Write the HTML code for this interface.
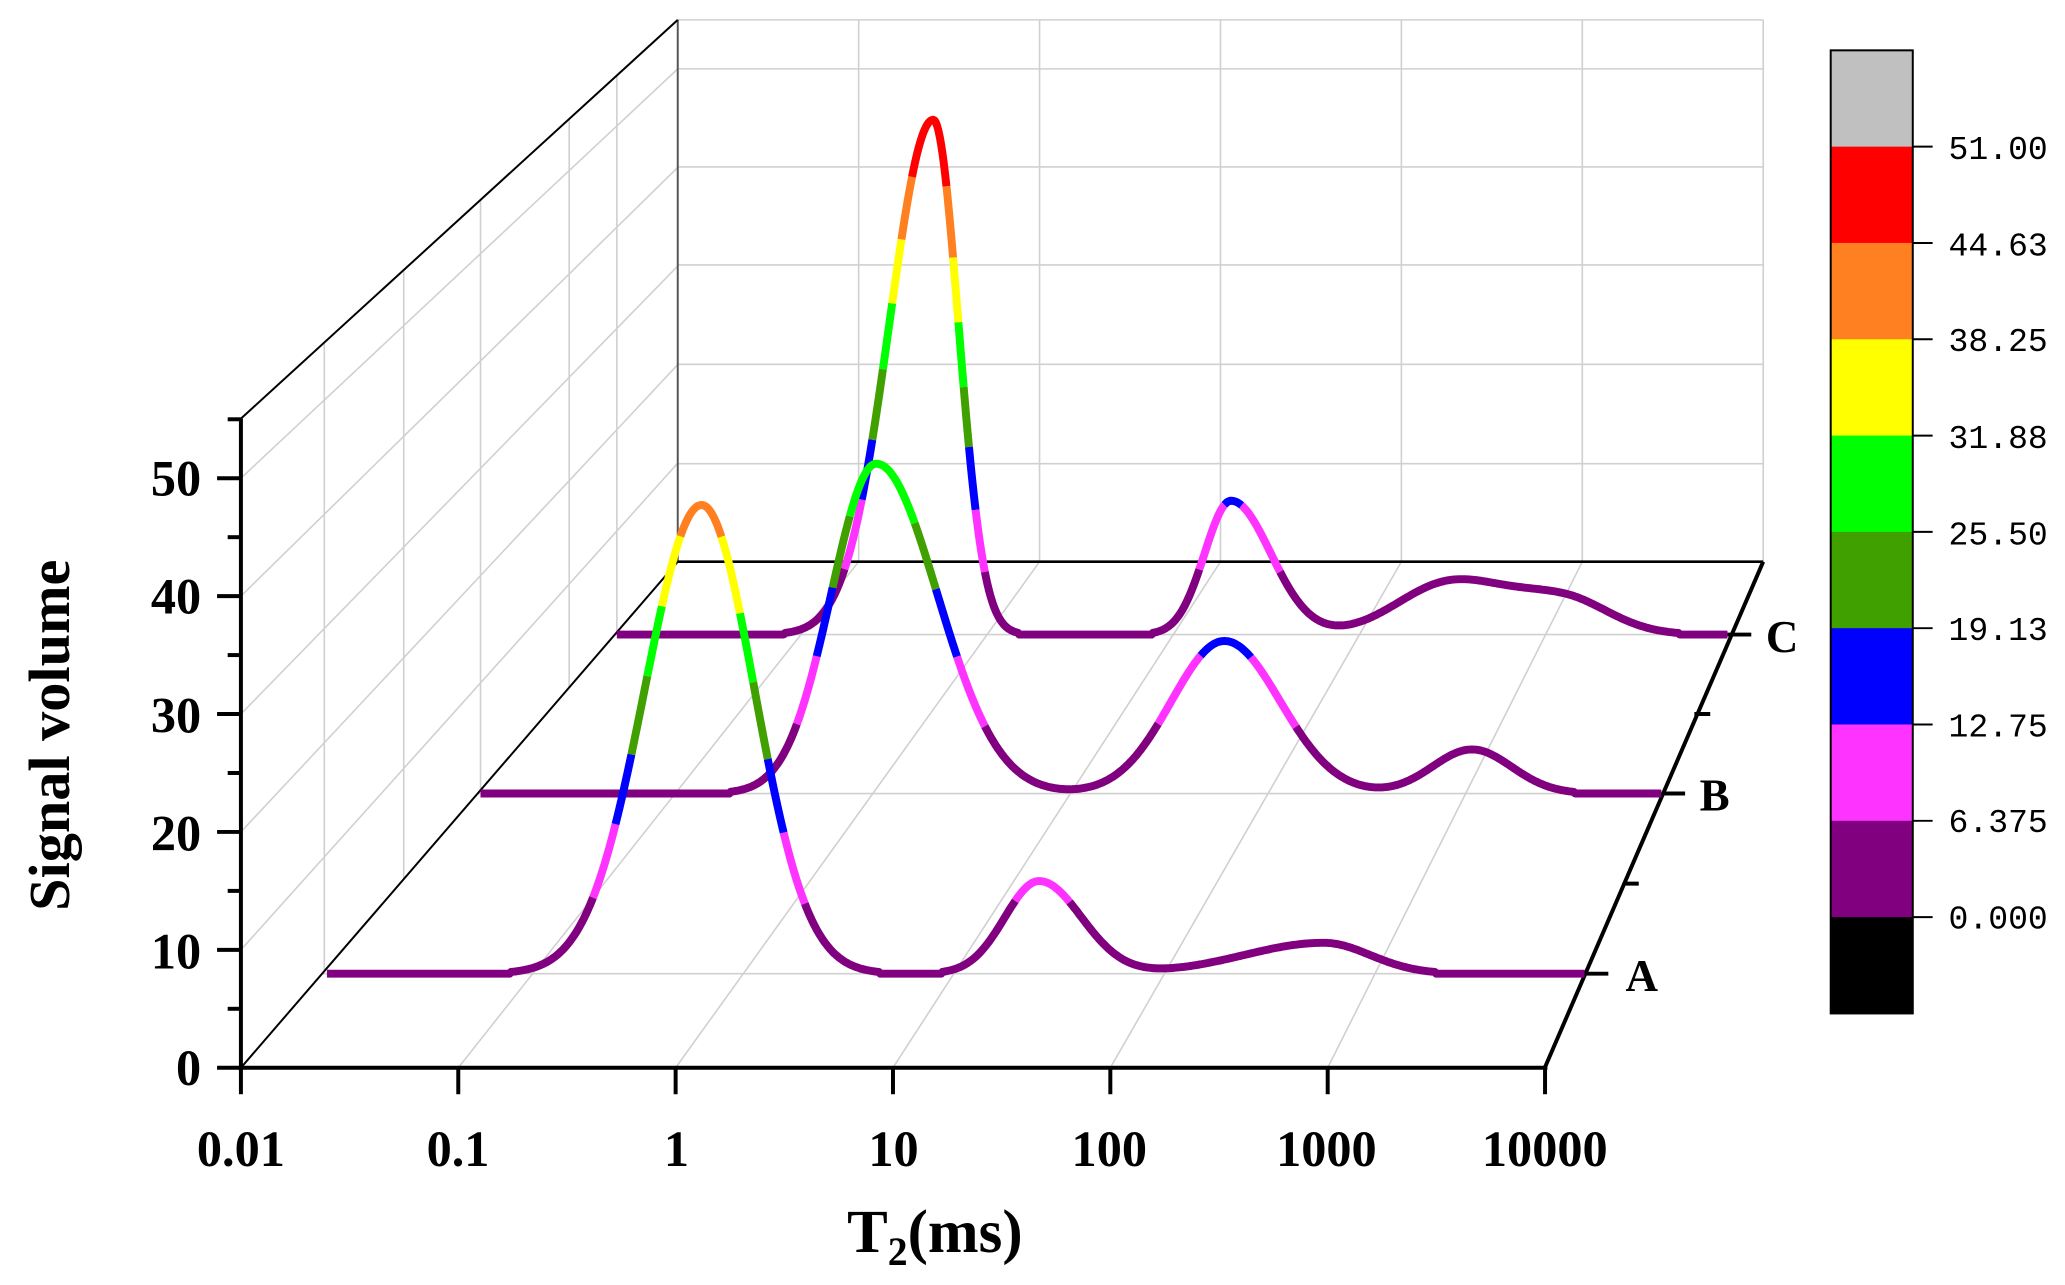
<!DOCTYPE html>
<html><head><meta charset="utf-8"><style>
html,body{margin:0;padding:0;background:#fff;}
svg{display:block;}
</style></head><body>
<svg id="s" width="2065" height="1285" viewBox="0 0 1560 970" preserveAspectRatio="none" xmlns="http://www.w3.org/2000/svg">
<g id="grid" stroke="#d0d0d0" stroke-width="1.2" fill="none"></g>
<g id="axes" stroke="#000" fill="none"></g>
<g id="curves" fill="none" stroke-width="6" stroke-linecap="butt" stroke-linejoin="round"></g>
<g id="cbar"></g>
<g font-family="'Liberation Serif',serif" font-weight="bold" fill="#000">
<g font-size="38" text-anchor="end">
<text x="152" y="819">0</text><text x="152" y="731">10</text><text x="152" y="642">20</text><text x="152" y="553">30</text><text x="152" y="463">40</text><text x="152" y="374">50</text>
</g>
<g font-size="38" text-anchor="middle">
<text x="182" y="880">0.01</text><text x="346" y="880">0.1</text><text x="511" y="880">1</text><text x="675" y="880">10</text><text x="838" y="880">100</text><text x="1002" y="880">1000</text><text x="1167" y="880">10000</text>
</g>
<text x="640" y="945" font-size="46">T<tspan font-size="30" dy="10">2</tspan><tspan dy="-10">(ms)</tspan></text>
<text transform="translate(52,555) rotate(-90)" font-size="44" text-anchor="middle">Signal volume</text>
<g font-size="34"><text x="1228" y="748">A</text><text x="1284" y="612">B</text><text x="1334" y="492">C</text></g>
</g>
<g font-family="'Liberation Mono',monospace" font-size="25" fill="#000">
<text x="1472" y="120">51.00</text><text x="1472" y="193">44.63</text><text x="1472" y="265">38.25</text><text x="1472" y="338">31.88</text><text x="1472" y="411">25.50</text><text x="1472" y="483">19.13</text><text x="1472" y="556">12.75</text><text x="1472" y="628">6.375</text><text x="1472" y="701">0.000</text>
</g>
</svg>
<script>
const NS="http://www.w3.org/2000/svg";
function L(g,x1,y1,x2,y2,attrs){const e=document.createElementNS(NS,"line");e.setAttribute("x1",x1);e.setAttribute("y1",y1);e.setAttribute("x2",x2);e.setAttribute("y2",y2);if(attrs)for(const k in attrs)e.setAttribute(k,attrs[k]);document.getElementById(g).appendChild(e);}
for(const y of [15,52,126,200,275,350])L("grid",512,y,1332,y);
for(let i=1;i<=6;i++){const x=512+i*136.67;L("grid",x,15,x,424);}
for(let k=1;k<=5;k++){L("grid",182,806-k*10*8.9,512,424-k*10*7.44);}
for(const x of [245,305,363,430,466]){const t=(x-182)/330;const yb=806-382*t, yt=316-301*t;L("grid",x,yt,x,yb);}
for(let i=1;i<=6;i++){L("grid",182+i*164.2,806,512+i*136.67,424);}
L("grid",243,735,1197,735);L("grid",361,599,1255,599);L("grid",464,479,1305,479);
L("axes",512,15,512,424,{"stroke-width":1.5,stroke:"#555"});
L("axes",512,424,1332,424,{"stroke-width":2});
L("axes",182,806,512,424,{"stroke-width":1.5});
L("axes",182,316,512,15,{"stroke-width":1.5});
L("axes",182,316,182,808,{"stroke-width":3});
L("axes",180,806,1169,806,{"stroke-width":3});
L("axes",1167,806,1332,424,{"stroke-width":3});
for(let k=0;k<=5;k++){const y=806-k*10*8.9;L("axes",164,y,182,y,{"stroke-width":3});const y2=y-44.5;if(y2>316)L("axes",172,y2,182,y2,{"stroke-width":3});}
for(let i=0;i<=6;i++){const x=182+i*164.2;L("axes",x,806,x,826,{"stroke-width":3});}
L("axes",1197,735,1215,735,{"stroke-width":3});L("axes",1255,599,1273,599,{"stroke-width":3});L("axes",1305,479,1323,479,{"stroke-width":3});
L("axes",1226,667,1238,667,{"stroke-width":3});L("axes",1280,539,1292,539,{"stroke-width":3});
const cols=["#800080","#ff33ff","#0000ff","#40a000","#00ff00","#ffff00","#ff8020","#ff0000"];
function col(v){let i=Math.floor(v/6.375);if(i<0)i=0;if(i>7)i=7;return cols[i];}
function ag(x,a,m,sl,sr){const s=x<m?sl:sr;return a*Math.exp(-(x-m)*(x-m)/(2*s*s));}
const series=[
 {base:479,sc:7.65,x0:466,x1:1305,f:x=>ag(x,50.8,705,33,19)+ag(x,13.2,930,20,30)+ag(x,5,1095,40,40)+ag(x,3.6,1180,40,35)},
 {base:599,sc:8.11,x0:363,x1:1255,f:x=>ag(x,30.7,662,34,46)+ag(x,14.2,925,40,42)+ag(x,4.1,1112,30,30)},
 {base:735,sc:8.63,x0:247,x1:1197,f:x=>ag(x,41,530,43,40)+ag(x,8.1,785,26,32)+ag(x,2.7,1000,60,35)}
];
const cg=document.getElementById("curves");
for(const s of series){
 let pts=[],cur=null;
 const flush=()=>{if(pts.length>1){const p=document.createElementNS(NS,"polyline");p.setAttribute("points",pts.join(" "));p.setAttribute("stroke",cur);cg.appendChild(p);}};
 for(let x=s.x0;x<=s.x1;x+=1){let v=s.f(x);if(v<0.15)v=0;const y=s.base-v*s.sc;const c=col(v);
  if(c!==cur){if(cur){pts.push(x+","+y.toFixed(1));flush();}cur=c;pts=[x+","+y.toFixed(1)];}else pts.push(x+","+y.toFixed(1));}
 flush();
}
const cb=document.getElementById("cbar");
const cbc=["#c0c0c0","#ff0000","#ff8020","#ffff00","#00ff00","#40a000","#0000ff","#ff33ff","#800080","#000000"];
const h=(765-38)/10;
cbc.forEach((c,i)=>{const r=document.createElementNS(NS,"rect");r.setAttribute("x",1383);r.setAttribute("y",38+i*h);r.setAttribute("width",62);r.setAttribute("height",h+0.5);r.setAttribute("fill",c);cb.appendChild(r);});
const bd=document.createElementNS(NS,"rect");bd.setAttribute("x",1383);bd.setAttribute("y",38);bd.setAttribute("width",62);bd.setAttribute("height",727);bd.setAttribute("fill","none");bd.setAttribute("stroke","#000");bd.setAttribute("stroke-width","1.5");cb.appendChild(bd);
for(let i=1;i<=9;i++){const y=38+i*h;const l=document.createElementNS(NS,"line");l.setAttribute("x1",1445);l.setAttribute("x2",1460);l.setAttribute("y1",y);l.setAttribute("y2",y);l.setAttribute("stroke","#000");l.setAttribute("stroke-width","1.5");cb.appendChild(l);}
</script>
</body></html>
